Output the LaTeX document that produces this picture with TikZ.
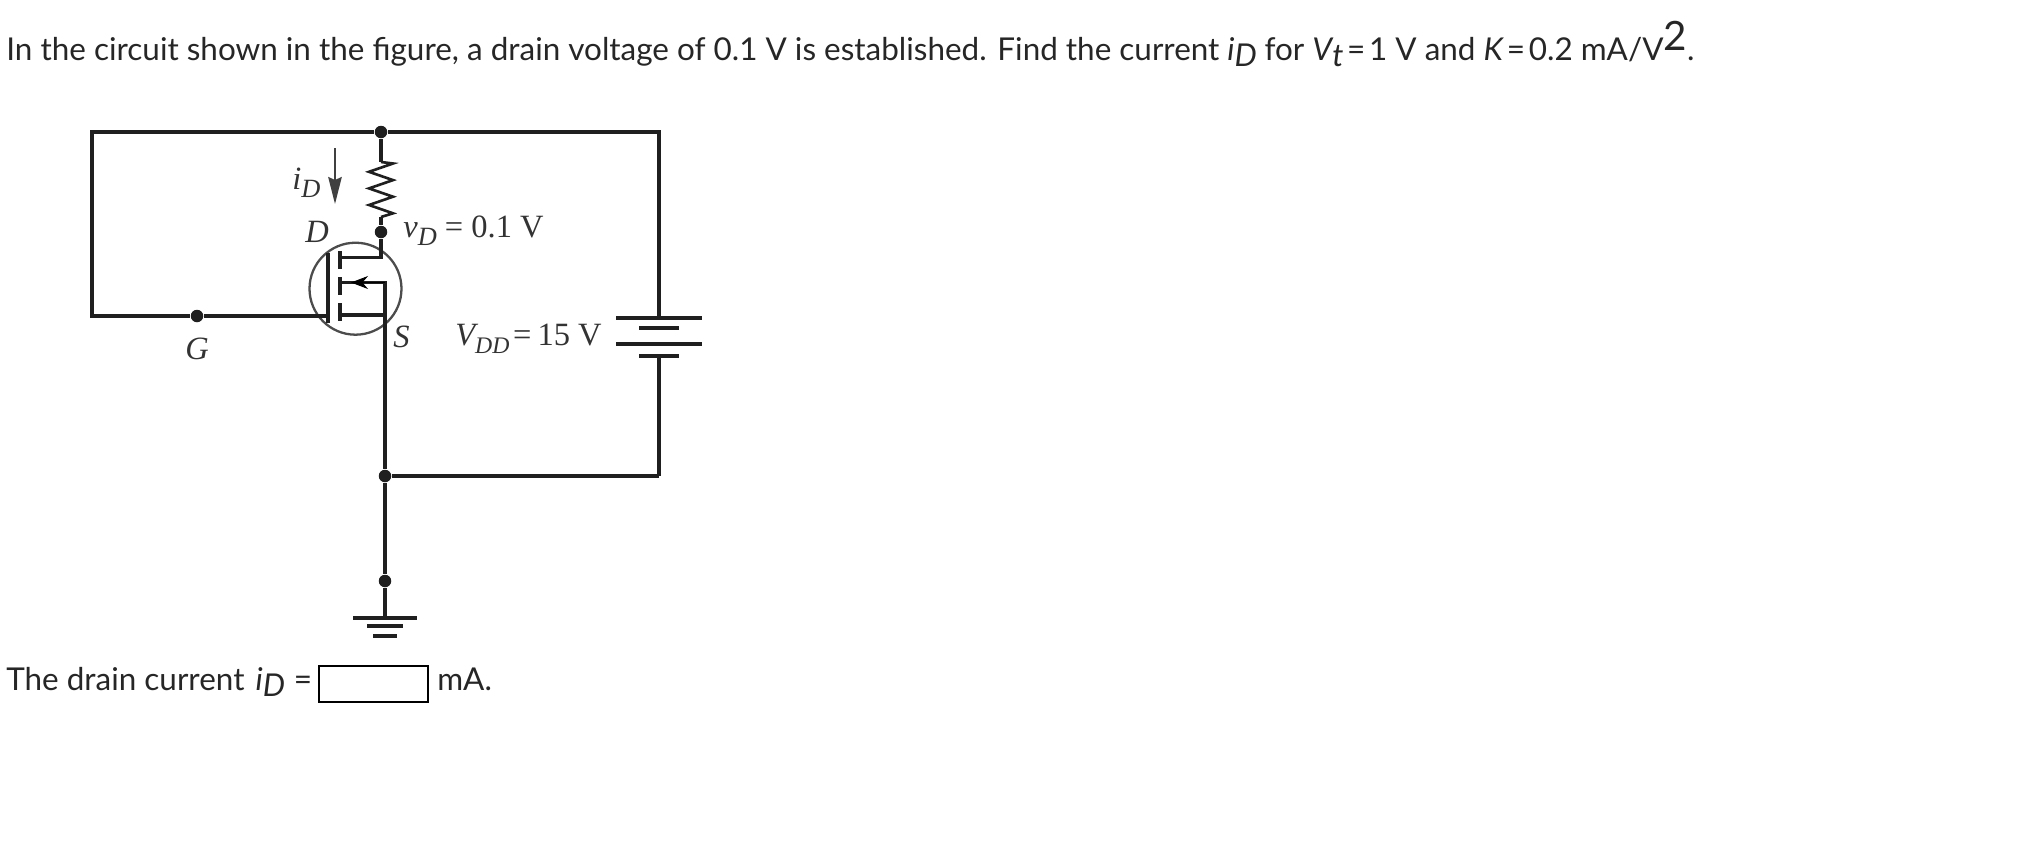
\documentclass[tikz,border=0pt]{standalone}
\usepackage{fontspec}
\setmainfont{Lato}
\newfontfamily\labelfont{Liberation Serif}
\usetikzlibrary{arrows.meta}
\newcommand{\subi}[1]{\raisebox{-0.4ex}{\itshape #1}}
\newcommand{\subl}[2][15pt]{\raisebox{-0.6ex}{\fontsize{#1}{15pt}\selectfont\itshape #2}}
\tikzset{
  wire/.style={line width=2.2pt,draw=black!88},
  thinwire/.style={line width=1.1pt,draw=black!75},
  dot/.style={circle,fill=black!88,inner sep=0pt,minimum size=0.25cm},
  mainlabel/.style={anchor=base west,inner sep=0pt,font=\fontsize{17.9pt}{20pt}\selectfont,text=black!85},
  ckt/.style={anchor=base west,inner sep=0pt,font=\labelfont\fontsize{18.5pt}{20pt}\selectfont,text=black!80}
}
\begin{document}
\begin{tikzpicture}[x=0.02cm,y=-0.02cm]
  \useasboundingbox (0,0) rectangle (2040,840);
  % text
  \node[mainlabel] (question) at (6,60) {In the circuit shown in the figure, a drain voltage of 0.1 V is established. Find the current {\itshape i}\subi{D}\kern0.25em for {\itshape V}\subi{t}\kern0.12em=\kern0.12em 1 V and {\itshape K}\kern0.12em=\kern0.12em 0.2 mA/V\raisebox{0.6ex}{\fontsize{23pt}{23pt}\selectfont 2}.};
  \node[mainlabel] (answer) at (6,690) {The drain current \kern0.1em{\itshape i}\subi{D}\kern0.28em=};
  \node[draw,line width=1.2pt,inner sep=0pt,minimum width=2.18cm,minimum height=0.72cm] (box) at (373.5,684) {};
  \node[mainlabel] (unit) at (437,690) {mA.};
  % junctions
  \node[dot] (top) at (381,132) {};
  \node[dot] (drain) at (381,232) {};
  \node[dot] (gate) at (197,316) {};
  \node[dot] (lower) at (385,476) {};
  \node[dot] (ground) at (385,581) {};
  \coordinate (tl) at (92,132);
  \coordinate (bl) at (92,316);
  \coordinate (tr) at (659,132);
  \coordinate (br) at (659,476);
  \coordinate (resa) at (381,162);
  \coordinate (resb) at (381,217);
  \coordinate (plate) at (328,316);
  % mosfet
  \node[circle,draw=black!70,line width=1.3pt,inner sep=0pt,minimum size=1.84cm] (fet) at (355.5,288.7) {};
  \coordinate (gatetop) at (328,253);
  \coordinate (gatebot) at (328,323);
  \coordinate (dr) at (381,257.5);
  \coordinate (dl) at (340,257.5);
  \coordinate (mr) at (385,282.5);
  \coordinate (ml) at (340,282.5);
  \coordinate (tip) at (351,282.5);
  \coordinate (sr) at (385,315);
  \coordinate (sl) at (340,315);
  \coordinate (cha) at (340,251);
  \coordinate (chb) at (340,269);
  \coordinate (chc) at (340,277);
  \coordinate (chd) at (340,295);
  \coordinate (che) at (340,303);
  \coordinate (chf) at (340,321);
  % wires
  \draw[wire] (top) -- (tl) -- (bl) -- (gate);
  \draw[wire] (gate) -- (plate);
  \draw[wire] (gatetop) -- (gatebot);
  \draw[wire] (top) -- (resa);
  \draw[wire,line width=1.5pt] (resa) -- ++(12,1.5) \foreach \i in {1,2,3} { -- ++(-24,8.3) -- ++(24,8.3) } -- (resb);
  \draw[wire] (resb) -- (drain);
  \draw[wire] (drain) -- (dr) -- (dl);
  \draw[wire] (cha) -- (chb);
  \draw[wire] (chc) -- (chd);
  \draw[wire] (che) -- (chf);
  \draw[wire] (ml) -- (mr) -- (sr) -- (sl);
  \draw[line width=0.5pt,-{Stealth[length=0.34cm,width=0.26cm]}] (mr) -- (tip);
  \draw[wire] (sr) -- (lower);
  \draw[wire] (lower) -- (ground);
  \draw[wire] (lower) -- (br);
  % battery
  \coordinate (bata) at (659,318);
  \coordinate (batb) at (659,328);
  \coordinate (batc) at (659,344);
  \coordinate (batd) at (659,356);
  \draw[wire] (top) -- (tr) -- (bata);
  \draw[wire] (bata) ++(-43,0) -- ++(86,0);
  \draw[wire] (batb) ++(-20,0) -- ++(40,0);
  \draw[wire] (batc) ++(-43,0) -- ++(86,0);
  \draw[wire] (batd) ++(-20,0) -- ++(40,0);
  \draw[wire] (batd) -- (br);
  % ground
  \coordinate (gnda) at (385,618);
  \coordinate (gndb) at (385,626);
  \coordinate (gndc) at (385,636);
  \draw[wire] (ground) -- (gnda);
  \draw[wire] (gnda) ++(-32,0) -- ++(64,0);
  \draw[wire] (gndb) ++(-18,0) -- ++(36,0);
  \draw[wire] (gndc) ++(-12,0) -- ++(24,0);
  % current arrow
  \coordinate (ida) at (335,148);
  \coordinate (idb) at (335,204);
  \draw[thinwire,-{Stealth[length=0.54cm,width=0.27cm,inset=0.06cm]}] (ida) -- (idb);
  % labels
  \node[ckt] (idlabel) at (292,189) {\itshape i\subl{D}};
  \node[ckt] (dlabel) at (305,242) {\itshape D};
  \node[ckt] (vdlabel) at (403,237) {{\itshape v}\subl{D} = 0.1 V};
  \node[ckt] (slabel) at (393,347) {\itshape S};
  \node[ckt] (vddlabel) at (455,345) {{\itshape V}\subl[13.5pt]{DD}\kern-0.14em\ =\kern-0.06em\ 15 V};
  \node[ckt] (glabel) at (185,359) {\itshape G};
\end{tikzpicture}
\end{document}
